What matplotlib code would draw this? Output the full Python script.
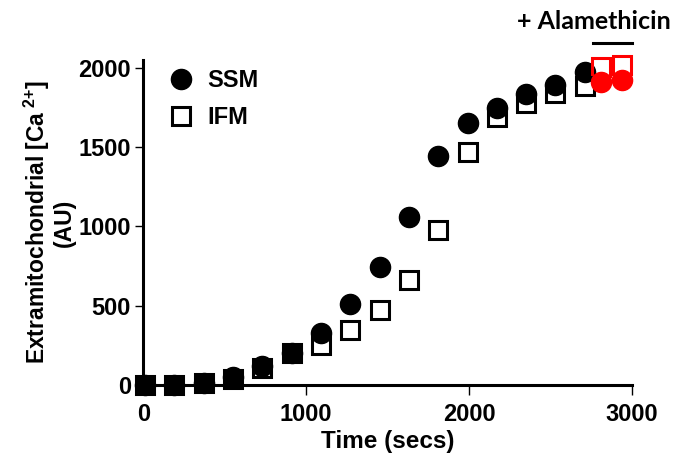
import matplotlib
matplotlib.use('Agg')
import matplotlib.pyplot as plt

# Time points (secs) and extramitochondrial Ca2+ (AU)
time = [10, 190, 370, 550, 730, 910, 1090, 1270, 1450, 1630, 1810, 1990, 2170, 2350, 2530, 2710]
ssm = [0, 0, 10, 50, 120, 200, 328, 511, 745, 1060, 1445, 1653, 1748, 1836, 1893, 1975]
ifm = [0, 0, 10, 40, 110, 200, 252, 347, 473, 662, 978, 1470, 1691, 1779, 1842, 1887]

# after alamethicin
time_ala = [2810, 2940]
ssm_ala = [1912, 1924]
ifm_ala = [2006, 2019]

plt.rcParams['font.family'] = 'sans-serif'
plt.rcParams['font.sans-serif'] = ['Liberation Sans']
plt.rcParams['font.weight'] = 'bold'
plt.rcParams['mathtext.fontset'] = 'custom'
plt.rcParams['mathtext.rm'] = 'Liberation Sans:bold'
plt.rcParams['mathtext.bf'] = 'Liberation Sans:bold'
plt.rcParams['mathtext.default'] = 'bf'

fig = plt.figure(figsize=(6.76, 4.65), dpi=100)
ax = fig.add_axes([0.212, 0.172, 0.723, 0.699])

ax.plot(time, ssm, 'o', color='black', markersize=14.5, label='SSM', clip_on=False, zorder=3)
ax.plot(time, ifm, 's', markerfacecolor='none', markeredgecolor='black',
        markeredgewidth=2.2, markersize=13.5, label='IFM', clip_on=False, zorder=4)
ax.plot(time_ala, ifm_ala, 's', markerfacecolor='none', markeredgecolor='red',
        markeredgewidth=2.2, markersize=13.5, clip_on=False, zorder=3)
ax.plot(time_ala, ssm_ala, 'o', color='red', markersize=14.5, clip_on=False, zorder=4)

ax.set_xlim(0, 3000)
ax.set_ylim(0, 2050)
ax.set_xticks([0, 1000, 2000, 3000])
ax.set_yticks([0, 500, 1000, 1500, 2000])

for s in ['top', 'right']:
    ax.spines[s].set_visible(False)
for s in ['left', 'bottom']:
    ax.spines[s].set_linewidth(2.2)
ax.tick_params(axis='y', direction='out', length=6, width=1, labelsize=17, pad=3)
ax.tick_params(axis='x', direction='out', length=7, width=1, labelsize=17, pad=6)
for lab in ax.get_xticklabels() + ax.get_yticklabels():
    lab.set_fontweight('bold')

ax.set_xlabel('Time (secs)', fontsize=17.5, fontweight='bold', labelpad=3)
ax.set_ylabel('Extramitochondrial [Ca$^{\\ 2{+}}$]\n(AU)', fontsize=16.5, fontweight='bold',
              labelpad=2, linespacing=1.0)

ax.legend(loc='upper left', bbox_to_anchor=(0.0, 1.015), frameon=False,
          handletextpad=0.1, labelspacing=0.6, borderaxespad=0.2,
          prop={'family': 'Liberation Sans', 'weight': 'bold', 'size': 17})

# alamethicin bar and label
ax.plot([2758, 3000], [2158, 2158], color='black', linewidth=2.2, clip_on=False)
ax.text(2291, 2290, '+ Alamethicin', ha='left', va='center', fontsize=18,
        fontweight='bold', family=['Lato', 'DejaVu Sans'])

fig.savefig('out.png', dpi=100)
